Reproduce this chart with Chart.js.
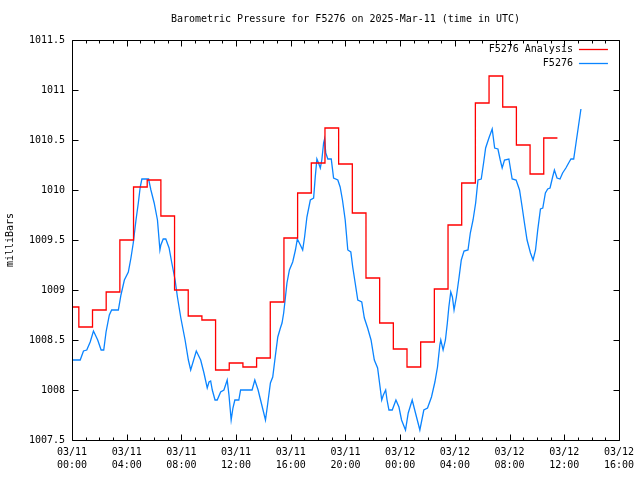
<!DOCTYPE html>
<html>
<head>
<meta charset="utf-8">
<script src="https://cdn.jsdelivr.net/npm/chart.js@4/dist/chart.umd.min.js"></script>
<style>
  html, body { margin: 0; padding: 0; background: #ffffff; }
  canvas { display: block; }
</style>
</head>
<body>
<canvas id="chart" width="640" height="480"></canvas>
<script>
// Hours since 2025-03-11 00:00 UTC
const analysisHours = [0, 1, 2, 3, 4, 5, 6, 7, 8, 9, 10, 11, 12, 13, 14, 15, 16, 17,
    18, 19, 20, 21, 22, 23, 24, 25, 26, 27, 28, 29, 30, 31, 32, 33, 34, 35];
const analysisValues = [1008.83, 1008.63, 1008.80, 1008.98, 1009.50, 1010.03, 1010.10, 1009.74,
    1009.00, 1008.74, 1008.70, 1008.20, 1008.27, 1008.23, 1008.32, 1008.88, 1009.52, 1009.97,
    1010.27, 1010.62, 1010.26, 1009.77, 1009.12, 1008.67, 1008.41, 1008.23, 1008.48, 1009.01,
    1009.65, 1010.07, 1010.87, 1011.14, 1010.83, 1010.45, 1010.16, 1010.52];

const sensorHours = [0.0, 0.6, 0.84, 1.08, 1.33, 1.57, 1.88, 2.13, 2.32, 2.49, 2.73, 2.9, 3.39,
    3.58, 3.83, 4.12, 4.31, 4.48, 4.68, 4.85, 4.99, 5.11, 5.6, 5.77, 6.01, 6.25, 6.43, 6.5, 6.67,
    6.86, 7.1, 7.3, 7.54, 7.71, 7.96, 8.27, 8.51, 8.68, 9.09, 9.41, 9.65, 9.89, 10.02, 10.14,
    10.26, 10.46, 10.62, 10.87, 11.11, 11.35, 11.48, 11.64, 11.77, 11.91, 12.2, 12.33, 13.17,
    13.37, 13.61, 13.79, 13.97, 14.15, 14.32, 14.51, 14.68, 14.88, 15.05, 15.24, 15.36, 15.48,
    15.61, 15.72, 15.9, 16.14, 16.34, 16.48, 16.7, 16.87, 17.01, 17.18, 17.43, 17.67, 17.79,
    17.91, 18.03, 18.16, 18.27, 18.4, 18.47, 18.56, 18.71, 18.96, 19.13, 19.44, 19.61, 19.78,
    19.98, 20.17, 20.39, 20.53, 20.71, 20.9, 21.19, 21.38, 21.62, 21.87, 22.11, 22.35, 22.53,
    22.65, 22.77, 22.94, 23.04, 23.18, 23.42, 23.69, 23.91, 24.1, 24.39, 24.59, 24.88, 25.12,
    25.44, 25.73, 26.0, 26.29, 26.54, 26.73, 26.9, 26.97, 27.14, 27.31, 27.45, 27.56, 27.7,
    27.82, 27.94, 28.11, 28.31, 28.47, 28.67, 28.96, 29.13, 29.33, 29.52, 29.69, 29.93, 30.11,
    30.25, 30.49, 30.73, 30.91, 31.15, 31.32, 31.46, 31.63, 31.95, 32.19, 32.48, 32.73, 32.92,
    33.09, 33.28, 33.53, 33.72, 33.9, 34.06, 34.26, 34.43, 34.62, 34.79, 34.96, 35.15, 35.28,
    35.47, 35.69, 35.88, 36.12, 36.32, 36.49, 36.69, 36.86, 37.03, 37.22];
const sensorValues = [1008.30, 1008.30, 1008.39, 1008.40, 1008.48, 1008.59, 1008.50, 1008.40,
    1008.40, 1008.58, 1008.75, 1008.80, 1008.80, 1008.95, 1009.10, 1009.18, 1009.32, 1009.47,
    1009.70, 1009.87, 1010.03, 1010.11, 1010.11, 1010.00, 1009.87, 1009.70, 1009.40, 1009.45,
    1009.51, 1009.51, 1009.42, 1009.27, 1009.10, 1008.93, 1008.72, 1008.50, 1008.30, 1008.20,
    1008.39, 1008.30, 1008.17, 1008.02, 1008.08, 1008.09, 1008.00, 1007.90, 1007.90, 1007.98,
    1008.00, 1008.10, 1007.95, 1007.70, 1007.82, 1007.90, 1007.90, 1008.00, 1008.00, 1008.10,
    1008.00, 1007.90, 1007.80, 1007.70, 1007.87, 1008.07, 1008.13, 1008.35, 1008.53, 1008.62,
    1008.67, 1008.77, 1008.93, 1009.07, 1009.20, 1009.28, 1009.40, 1009.51, 1009.45, 1009.40,
    1009.53, 1009.73, 1009.90, 1009.92, 1010.13, 1010.31, 1010.27, 1010.22, 1010.30, 1010.47,
    1010.51, 1010.37, 1010.31, 1010.31, 1010.12, 1010.10, 1010.03, 1009.90, 1009.70, 1009.40,
    1009.38, 1009.23, 1009.07, 1008.90, 1008.88, 1008.72, 1008.62, 1008.50, 1008.30, 1008.22,
    1008.03, 1007.90, 1007.95, 1008.00, 1007.90, 1007.80, 1007.80, 1007.90, 1007.83, 1007.70,
    1007.60, 1007.77, 1007.90, 1007.77, 1007.60, 1007.80, 1007.82, 1007.93, 1008.08, 1008.23,
    1008.45, 1008.50, 1008.40, 1008.50, 1008.67, 1008.83, 1008.98, 1008.93, 1008.80, 1008.93,
    1009.13, 1009.30, 1009.39, 1009.40, 1009.57, 1009.70, 1009.87, 1010.10, 1010.11, 1010.28,
    1010.42, 1010.52, 1010.61, 1010.42, 1010.41, 1010.30, 1010.22, 1010.30, 1010.31, 1010.11,
    1010.10, 1010.00, 1009.83, 1009.67, 1009.50, 1009.37, 1009.30, 1009.40, 1009.60, 1009.81,
    1009.82, 1009.97, 1010.01, 1010.02, 1010.13, 1010.20, 1010.12, 1010.11, 1010.17, 1010.22,
    1010.27, 1010.31, 1010.31, 1010.47, 1010.63, 1010.81];

const seriesNames = ['F5276 Analysis', 'F5276'];
const seriesColors = ['#ff0000', '#0a84ff'];
const titleText = 'Barometric Pressure for F5276 on 2025-Mar-11 (time in UTC)';
const yAxisTitle = 'milliBars';
const startDay = 11;

const FONT = { family: '"DejaVu Sans Mono", "Liberation Mono", monospace', size: 10, lineHeight: 1.3 };

// histeps style: each analysis value holds half an hour either side
const analysisData = analysisHours.map((h, i) => ({ x: h, y: analysisValues[i] }));
analysisData.push({ x: analysisHours[analysisHours.length - 1] + 0.5, y: analysisValues[analysisValues.length - 1] });
const sensorData = sensorHours.map((h, i) => ({ x: h, y: sensorValues[i] }));

const pad2 = (n) => String(n).padStart(2, '0');
const timeLabel = (value) => {
    const day = startDay + Math.floor(value / 24);
    const hour = value % 24;
    return ['03/' + pad2(day), pad2(hour) + ':00'];
};

// Title over the plot, border box, inward tics on all sides, and the key
const framePlugin = {
    id: 'frame',
    afterDatasetsDraw(chart) {
        const { ctx, chartArea: a, scales } = chart;
        const L = Math.round(a.left) + 0.5, R = Math.round(a.right) + 0.5;
        const T = Math.round(a.top) + 0.5, B = Math.round(a.bottom) + 0.5;
        ctx.save();
        ctx.fillStyle = '#000000';
        ctx.font = `${FONT.size}px ${FONT.family}`;
        ctx.textAlign = 'center';
        ctx.textBaseline = 'middle';
        ctx.fillText(titleText, (a.left + a.right) / 2, 19);

        ctx.strokeStyle = '#000000';
        ctx.lineWidth = 1;
        ctx.beginPath();
        ctx.rect(L, T, R - L, B - T);
        // x tics: hourly minor, 4-hourly major
        for (let h = 0; h <= 40; h++) {
            const px = Math.round(scales.x.getPixelForValue(h)) + 0.5;
            const len = h % 4 === 0 ? 6 : 3;
            ctx.moveTo(px, B); ctx.lineTo(px, B - len);
            ctx.moveTo(px, T); ctx.lineTo(px, T + len);
        }
        scales.y.ticks.forEach(t => {
            const py = Math.round(scales.y.getPixelForValue(t.value)) + 0.5;
            ctx.moveTo(L, py); ctx.lineTo(L + 6, py);
            ctx.moveTo(R, py); ctx.lineTo(R - 6, py);
        });
        ctx.stroke();

        // key
        ctx.textAlign = 'right';
        ctx.lineWidth = 1.3;
        seriesNames.forEach((name, i) => {
            const y = Math.round(a.top + 9 + i * 14) + 0.5;
            ctx.fillStyle = '#000000';
            ctx.fillText(name, a.right - 46, y);
            ctx.strokeStyle = seriesColors[i];
            ctx.beginPath();
            ctx.moveTo(a.right - 40, y);
            ctx.lineTo(a.right - 11, y);
            ctx.stroke();
        });
        ctx.restore();
    }
};

Chart.defaults.font.family = FONT.family;
Chart.defaults.font.size = FONT.size;
Chart.defaults.color = '#000000';

new Chart(document.getElementById('chart'), {
    type: 'line',
    data: {
        datasets: [
            {
                label: seriesNames[0],
                data: analysisData,
                borderColor: seriesColors[0],
                borderWidth: 1.3,
                stepped: 'middle',
                pointRadius: 0,
                fill: false
            },
            {
                label: seriesNames[1],
                data: sensorData,
                borderColor: seriesColors[1],
                borderWidth: 1.3,
                tension: 0,
                pointRadius: 0,
                fill: false
            }
        ]
    },
    options: {
        responsive: false,
        animation: false,
        devicePixelRatio: 1,
        layout: { padding: { left: 0, right: 18, top: 40, bottom: 0 } },
        plugins: {
            legend: { display: false },
            tooltip: { enabled: false },
            title: { display: false }
        },
        scales: {
            x: {
                type: 'linear',
                min: 0,
                max: 40,
                grid: { display: false, drawTicks: false, tickLength: 0 },
                border: { display: false },
                ticks: {
                    stepSize: 4,
                    maxRotation: 0,
                    autoSkip: false,
                    padding: 6,
                    font: FONT,
                    callback: (value) => timeLabel(value)
                },
                afterFit: (scale) => { scale.height = 40; }
            },
            y: {
                min: 1007.5,
                max: 1011.5,
                grid: { display: false, drawTicks: false, tickLength: 0 },
                border: { display: false },
                title: {
                    display: true,
                    text: yAxisTitle,
                    font: { ...FONT, lineHeight: 1.2 },
                    padding: { top: 4, bottom: 0 }
                },
                ticks: {
                    stepSize: 0.5,
                    padding: 7,
                    font: FONT,
                    callback: (value) => String(value)
                },
                afterFit: (scale) => { scale.width = 72; }
            }
        }
    },
    plugins: [framePlugin]
});
</script>
</body>
</html>
